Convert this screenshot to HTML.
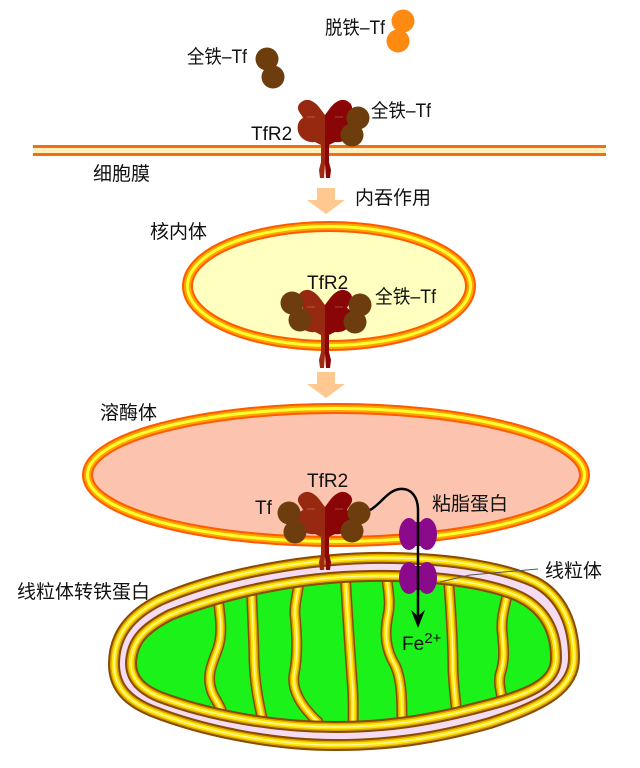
<!DOCTYPE html>
<html>
<head>
<meta charset="utf-8">
<style>
  html,body{margin:0;padding:0;background:#fff;}
  svg{display:block;}
  text{font-family:"Liberation Sans","Noto Sans CJK SC",sans-serif;font-size:19px;fill:#111;}
</style>
</head>
<body>
<svg width="640" height="768" viewBox="0 0 640 768" xmlns="http://www.w3.org/2000/svg">
  <defs>
    <g id="rec">
      <path fill="#96290f" d="M0,15 C-4,10 -8,2 -16,0 C-22,-1 -28,4 -27,9 C-26,13 -23,15 -22,18 C-27,20 -29,28 -26,34 C-23,40 -16,43 -10,42 L-4,45 L0,46 Z"/>
      <path fill="#8a0505" d="M0,15 C4,10 8,2 16,0 C22,-1 28,4 27,9 C26,13 23,15 22,18 C27,20 29,28 26,34 C23,40 16,43 10,42 L4,45 L0,46 Z"/>
      <path fill="#a02a10" d="M-4,42 L0,42 L0,64 L-1,78 L-5,78 L-6,70 L-4,62 Z"/>
      <path fill="#8a0505" d="M4,42 L0,42 L0,64 L1,78 L5,78 L6,70 L4,62 Z"/>
      <path stroke="#d88" stroke-width="0.8" d="M-18,17 H-10 M10,17 H18" opacity="0.6"/>
    </g>
    <clipPath id="innerClip">
      <path d="M 131,663 C 132,640 145,628 170,615 C 222,594 295,577 370,576 C 435,575 490,583 520,597 C 544,609 556,630 556,658 C 556,682 532,694 484,706 C 428,721 385,727 335,727 C 273,727 208,715 160,697 C 140,689 131,678 131,663 Z"/>
    </clipPath>
    <path id="outerP" d="M 114,664 C 114,635 130,615 160,600 C 210,578 290,560 370,558 C 440,557 500,566 535,582 C 562,596 574,625 574,658 C 574,688 545,705 490,723 C 430,740 385,745 335,745 C 270,745 200,730 152,711 C 125,700 114,685 114,664 Z"/>
    <path id="innerP" d="M 131,663 C 132,640 145,628 170,615 C 222,594 295,577 370,576 C 435,575 490,583 520,597 C 544,609 556,630 556,658 C 556,682 532,694 484,706 C 428,721 385,727 335,727 C 273,727 208,715 160,697 C 140,689 131,678 131,663 Z"/>
    <g id="cristae" fill="none" stroke-linecap="round" stroke-linejoin="round">
      <path d="M 216,582 C 219,610 224,630 218,648 C 212,665 206,675 212,692 C 216,702 222,706 224,722"/>
      <path d="M 251,575 C 252,610 254,640 254,660 C 255,685 258,700 264,727"/>
      <path d="M 299,572 C 300,590 294,600 295,615 C 297,635 298,655 294,675 C 292,690 300,705 318,722 L 322,732"/>
      <path d="M 345,570 C 347,610 350,650 352,680 C 354,700 353,715 353,732"/>
      <path d="M 386,570 C 388,592 391,602 388,615 C 384,635 386,650 395,665 C 402,680 402,700 402,728"/>
      <path d="M 448,573 C 451,610 453,645 453,670 C 454,690 456,705 458,725"/>
      <path d="M 509,580 C 508,600 501,612 502,630 C 504,650 505,660 500,675 C 498,688 503,695 504,715"/>
    </g>
  </defs>

  <!-- cell membrane -->
  <rect x="33" y="145" width="573" height="11" fill="#f07010"/>
  <rect x="33" y="148" width="573" height="5" fill="#fff1bf"/>

  <!-- free Tf -->
  <circle cx="403" cy="21" r="11.5" fill="#ff8a12"/>
  <circle cx="398" cy="41" r="11.5" fill="#ff8a12"/>
  <circle cx="267" cy="59" r="11.5" fill="#6e3d0e"/>
  <circle cx="273" cy="77" r="11.5" fill="#6e3d0e"/>

  <!-- top receptor -->
  <use href="#rec" transform="translate(325,100)"/>
  <circle cx="358" cy="118" r="11.5" fill="#6e3d0e"/>
  <circle cx="352" cy="135" r="11.5" fill="#6e3d0e"/>

  <!-- arrows -->
  <path d="M317,188 H335 V200 H345 L326,214 L307,200 H317 Z" fill="#ffc890"/>
  <path d="M317,372 H335 V384 H345 L326,398 L307,384 H317 Z" fill="#ffc890"/>

  <!-- endosome -->
  <ellipse cx="329" cy="286" rx="147" ry="65" fill="#ffffc0"/>
  <ellipse cx="329" cy="286" rx="141.5" ry="59.5" fill="none" stroke="#ff5a00" stroke-width="11"/>
  <ellipse cx="329" cy="286" rx="141.5" ry="59.5" fill="none" stroke="#ffa500" stroke-width="7"/>
  <ellipse cx="329" cy="286" rx="141.5" ry="59.5" fill="none" stroke="#ffff30" stroke-width="3"/>
  <use href="#rec" transform="translate(325,290)"/>
  <circle cx="292" cy="303" r="11.5" fill="#6e3d0e"/>
  <circle cx="300" cy="320" r="11.5" fill="#6e3d0e"/>
  <circle cx="360" cy="305" r="11.5" fill="#6e3d0e"/>
  <circle cx="355" cy="322" r="11.5" fill="#6e3d0e"/>

  <!-- lysosome -->
  <ellipse cx="336" cy="475" rx="254" ry="72" fill="#fcc4ae"/>
  <ellipse cx="336" cy="475" rx="248.5" ry="66.5" fill="none" stroke="#ff5a00" stroke-width="11"/>
  <ellipse cx="336" cy="475" rx="248.5" ry="66.5" fill="none" stroke="#ffa500" stroke-width="7"/>
  <ellipse cx="336" cy="475" rx="248.5" ry="66.5" fill="none" stroke="#ffff30" stroke-width="3"/>

  <!-- mitochondrion -->
  <use href="#outerP" fill="#f6dcf2" stroke="#8a4a00" stroke-width="12"/>
  <use href="#outerP" fill="none" stroke="#d9a400" stroke-width="8"/>
  <use href="#outerP" fill="none" stroke="#ffe600" stroke-width="5"/>
  <use href="#outerP" fill="none" stroke="#fff59a" stroke-width="1.5"/>
  <use href="#innerP" fill="#1af21a"/>
  <g clip-path="url(#innerClip)">
    <use href="#cristae" stroke="#8a4a00" stroke-width="11"/>
    <use href="#cristae" stroke="#d9a400" stroke-width="8"/>
    <use href="#cristae" stroke="#ffe600" stroke-width="5"/>
    <use href="#cristae" stroke="#fff59a" stroke-width="1.5"/>
  </g>
  <use href="#innerP" fill="none" stroke="#8a4a00" stroke-width="12"/>
  <use href="#innerP" fill="none" stroke="#d9a400" stroke-width="8"/>
  <use href="#innerP" fill="none" stroke="#ffe600" stroke-width="5"/>
  <use href="#innerP" fill="none" stroke="#fff59a" stroke-width="1.5"/>

  <!-- lysosome receptor -->
  <use href="#rec" transform="translate(325,492)"/>
  <circle cx="289" cy="513" r="11.5" fill="#6e3d0e"/>
  <circle cx="295" cy="532" r="11.5" fill="#6e3d0e"/>
  <circle cx="359" cy="513" r="11.5" fill="#6e3d0e"/>
  <circle cx="352" cy="531" r="11.5" fill="#6e3d0e"/>

  <!-- mucolipin proteins -->
  <g fill="#8b0a8c">
    <ellipse cx="409" cy="534" rx="10" ry="16"/>
    <ellipse cx="427" cy="534" rx="10" ry="16"/>
    <rect x="410" y="522" width="16" height="24"/>
    <ellipse cx="409" cy="578" rx="10" ry="16"/>
    <ellipse cx="427" cy="578" rx="10" ry="16"/>
    <rect x="410" y="566" width="16" height="24"/>
  </g>

  <!-- leader line -->
  <polyline points="538,569 470,575 440,582" fill="none" stroke="#555" stroke-width="1"/>

  <!-- black arrow -->
  <path d="M 370,510 C 380,505 388,490 400,489 C 412,488 418,498 418,510 L 418,616" fill="none" stroke="#000" stroke-width="2.5"/>
  <path d="M 411,610 L 418,628 L 425,610 L 418,616 Z" fill="#000"/>

  <!-- labels -->
  <text x="325" y="34" textLength="60" lengthAdjust="spacingAndGlyphs">脱铁–Tf</text>
  <text x="187" y="63" textLength="60" lengthAdjust="spacingAndGlyphs">全铁–Tf</text>
  <text x="371" y="117" textLength="60" lengthAdjust="spacingAndGlyphs">全铁–Tf</text>
  <text x="251" y="140">TfR2</text>
  <text x="93" y="180">细胞膜</text>
  <text x="355" y="204">内吞作用</text>
  <text x="150" y="238">核内体</text>
  <text x="307" y="289">TfR2</text>
  <text x="375" y="303" textLength="61" lengthAdjust="spacingAndGlyphs">全铁–Tf</text>
  <text x="100" y="419">溶酶体</text>
  <text x="307" y="487">TfR2</text>
  <text x="255" y="514">Tf</text>
  <text x="432" y="510">粘脂蛋白</text>
  <text x="545" y="577">线粒体</text>
  <text x="17" y="598">线粒体转铁蛋白</text>
  <text x="402" y="650">Fe<tspan font-size="15" dy="-7">2+</tspan></text>
</svg>
</body>
</html>
